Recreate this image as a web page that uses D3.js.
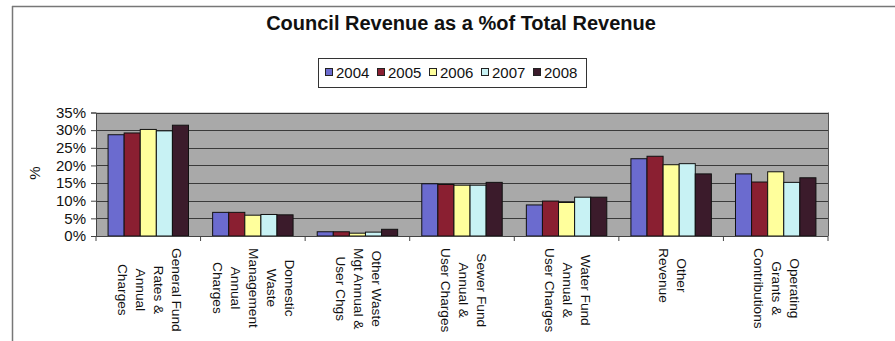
<!DOCTYPE html>
<html>
<head>
<meta charset="utf-8">
<script src="https://cdn.jsdelivr.net/npm/d3@7"></script>
<style>
  html, body { margin: 0; padding: 0; background: #fff; }
  svg { display: block; font-family: Arial, "Liberation Sans", sans-serif; }
</style>
</head>
<body>
<svg id="chart" width="895" height="341"></svg>
<script>
// Revenue categories (each label broken into its display lines)
const categories = [
  ["General Fund", "Rates &", "Annual", "Charges"],
  ["Domestic", "Waste", "Management", "Annual", "Charges"],
  ["Other Waste", "Mgt Annual &", "User Chgs"],
  ["Sewer Fund", "Annual &", "User Charges"],
  ["Water Fund", "Annual &", "User Charges"],
  ["Other", "Revenue"],
  ["Operating", "Grants &", "Contributions"]
];
const years = ["2004", "2005", "2006", "2007", "2008"];

// Share of total revenue (%) per category, one array per year
const v2004 = [28.7, 6.7, 1.2, 14.8, 8.8, 21.9, 17.6];
const v2005 = [29.2, 6.7, 1.2, 14.6, 9.9, 22.6, 15.3];
const v2006 = [30.2, 5.9, 0.8, 14.4, 9.5, 20.2, 18.2];
const v2007 = [29.8, 6.1, 1.1, 14.4, 11.0, 20.5, 15.2];
const v2008 = [31.4, 6.0, 1.9, 15.2, 11.0, 17.6, 16.5];
const series = [v2004, v2005, v2006, v2007, v2008];

const yTicks = [0, 5, 10, 15, 20, 25, 30, 35];
const colors = ["#6b6bcf", "#8a1f31", "#ffff9c", "#c8f2f4", "#3b1b2b"];

const svg = d3.select("#chart");

// outer chart frame (top and left edges)
svg.append("line").attr("x1", 12).attr("x2", 895).attr("y1", 6.5).attr("y2", 6.5)
  .attr("stroke", "#777").attr("stroke-width", 1.5);
svg.append("line").attr("x1", 12.5).attr("x2", 12.5).attr("y1", 6).attr("y2", 341)
  .attr("stroke", "#777").attr("stroke-width", 1.5);

// title
svg.append("text").attr("x", 461).attr("y", 30).attr("text-anchor", "middle")
  .attr("font-size", 20).attr("font-weight", "bold").attr("fill", "#111")
  .text("Council Revenue as a %of Total Revenue");

// plot area
const plot = { left: 96, right: 828, top: 112.5, bottom: 236 };
const x0 = d3.scaleBand().domain(d3.range(categories.length))
  .range([plot.left, plot.right]).paddingInner(0).paddingOuter(0);
const x1 = d3.scaleBand().domain(d3.range(years.length))
  .range([0, x0.bandwidth()]).paddingInner(0).paddingOuter(0.75 / (1 + 0));
const y = d3.scaleLinear().domain([0, 35]).range([plot.bottom, plot.top]);

svg.append("rect").attr("x", plot.left).attr("y", plot.top)
  .attr("width", plot.right - plot.left).attr("height", plot.bottom - plot.top)
  .attr("fill", "#a9a9a9");

// gridlines
svg.append("g").selectAll("line").data(yTicks.filter(d => d > 0)).join("line")
  .attr("x1", plot.left).attr("x2", plot.right)
  .attr("y1", d => Math.round(y(d)) + 0.5).attr("y2", d => Math.round(y(d)) + 0.5)
  .attr("stroke", "#3a3a3a").attr("stroke-width", 1);

// right border of the plot area
svg.append("line").attr("x1", plot.right + 0.5).attr("x2", plot.right + 0.5)
  .attr("y1", plot.top).attr("y2", plot.bottom).attr("stroke", "#555");

// bars
const groups = svg.append("g").selectAll("g").data(categories).join("g")
  .attr("transform", (d, i) => `translate(${x0(i)},0)`);
groups.selectAll("rect").data((d, i) => series.map((s, k) => ({ k, v: s[i] }))).join("rect")
  .attr("x", d => x1(d.k))
  .attr("y", d => y(d.v))
  .attr("width", x1.bandwidth())
  .attr("height", d => y(0) - y(d.v))
  .attr("fill", d => colors[d.k])
  .attr("stroke", "#111").attr("stroke-width", 1);

// y axis
const yAxis = d3.axisLeft(y).tickValues(yTicks).tickFormat(d => d + "%").tickSize(5).tickPadding(5);
const gy = svg.append("g").attr("transform", `translate(${plot.left},0)`).call(yAxis);
gy.select(".domain").attr("stroke", "#444");
gy.selectAll(".tick line").attr("stroke", "#444");
gy.selectAll("text").attr("font-size", 15).attr("fill", "#111").attr("font-family", "Arial, 'Liberation Sans', sans-serif");

// x axis line and boundary ticks
svg.append("line").attr("x1", plot.left).attr("x2", plot.right)
  .attr("y1", plot.bottom + 0.5).attr("y2", plot.bottom + 0.5).attr("stroke", "#444");
svg.append("g").selectAll("line").data(d3.range(categories.length + 1)).join("line")
  .attr("x1", i => plot.left + i * x0.bandwidth()).attr("x2", i => plot.left + i * x0.bandwidth())
  .attr("y1", plot.bottom).attr("y2", plot.bottom + 5).attr("stroke", "#444");

// y axis title
svg.append("text").attr("transform", "translate(40,173) rotate(-90)")
  .attr("text-anchor", "middle").attr("font-size", 15).attr("fill", "#111").text("%");

// category labels, rotated to read downward, lines stacked right-to-left
const lineGap = 18;
const labelTop = 248;
const labelFont = 13.7;
categories.forEach((lines, i) => {
  const cx = x0(i) + x0.bandwidth() / 2 + 1;
  const g = svg.append("g");
  const texts = lines.map((ln, j) => {
    const off = ((lines.length - 1) / 2 - j) * lineGap;
    return g.append("text")
      .attr("font-size", labelFont).attr("fill", "#111")
      .attr("text-anchor", "middle").attr("dominant-baseline", "central")
      .attr("data-x", cx + off)
      .text(ln);
  });
  const maxLen = d3.max(texts, t => t.node().getComputedTextLength());
  const cy = labelTop + maxLen / 2;
  texts.forEach(t => {
    const tx = +t.attr("data-x");
    t.attr("transform", `translate(${tx},${cy}) rotate(90)`).attr("data-x", null);
  });
});

// legend
const legend = svg.append("g");
legend.append("rect").attr("x", 318.5).attr("y", 58.5).attr("width", 268).attr("height", 29)
  .attr("fill", "#fff").attr("stroke", "#333").attr("stroke-width", 1);
const legX = [325, 377, 429, 481, 533];
years.forEach((yr, k) => {
  legend.append("rect").attr("x", legX[k] + 0.5).attr("y", 68.5).attr("width", 7).attr("height", 7)
    .attr("fill", colors[k]).attr("stroke", "#222");
  legend.append("text").attr("x", legX[k] + 11).attr("y", 78)
    .attr("font-size", 15).attr("fill", "#111").text(yr);
});
</script>
</body>
</html>
